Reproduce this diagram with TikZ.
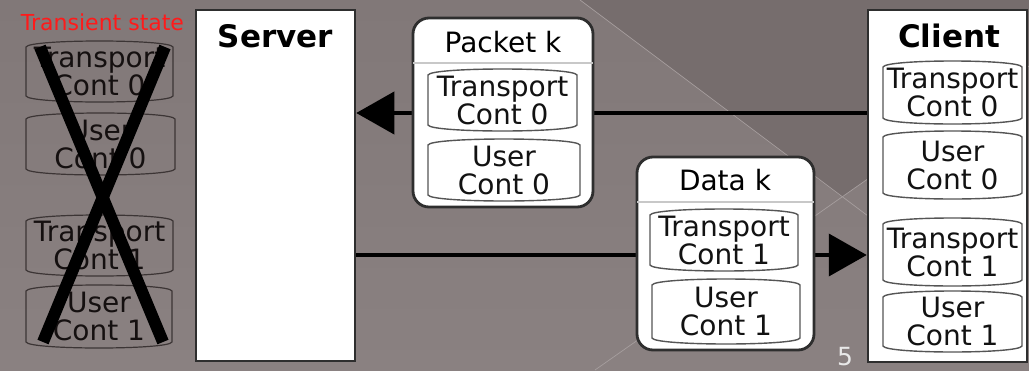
\documentclass[tikz,border=0pt]{standalone}
\usepackage{fontspec}
\setmainfont{DejaVu Sans}
\usetikzlibrary{arrows.meta}

\definecolor{bgtop}{HTML}{817878}
\definecolor{bgbottom}{HTML}{8A8181}
\definecolor{bgdark}{HTML}{766D6D}
\definecolor{streak}{HTML}{A69E9E}
\definecolor{boxline}{HTML}{2E2E2E}
\definecolor{cellline}{HTML}{555555}
\definecolor{ghostline}{HTML}{3C3535}
\definecolor{ghosttext}{HTML}{151010}
\definecolor{seprule}{HTML}{C8C8C8}
\definecolor{alertred}{HTML}{FF1A1A}
\definecolor{pagenum}{HTML}{E8E8E8}

% tape-shaped cell: straight sides, top and bottom bulging outward
\newcommand\tapeoutline[5]{%
  \draw[#5] ({#1},{#2+7}) .. controls ({#1+3},{#2-1}) and ({#3-3},{#2-1}) .. ({#3},{#2+7})
    -- ({#3},{#4-7}) .. controls ({#3-3},{#4+1}) and ({#1+3},{#4+1}) .. ({#1},{#4-7}) -- cycle;}
% name, x1, y1, x2, y2, outline style, text style, text
\newcommand\tapecell[8]{%
  \tapeoutline{#2}{#3}{#4}{#5}{#6}%
  \node[celltext,#7] (#1) at ({(#2+#4)/2},{(#3+#5)/2}) {#8};}

\begin{document}
\begin{tikzpicture}[x=1pt,y=-1pt,
  celltext/.style={inner sep=0pt, align=center, text=black!93,
    font=\fontsize{28}{28}\selectfont},
  whitecell/.style={draw=cellline, fill=white, line width=1.4pt},
  ghostcell/.style={draw=ghostline, line width=1.2pt},
  ghosttxt/.style={text=ghosttext},
  hostbox/.style={draw=boxline, fill=white, line width=2.5pt, inner sep=0pt},
  panel/.style={draw=boxline, fill=white, line width=2.8pt, rounded corners=16pt, inner sep=0pt},
  hosttitle/.style={inner sep=0pt, anchor=base, font=\fontsize{31}{31}\selectfont\bfseries},
  paneltitle/.style={inner sep=0pt, anchor=base, font=\fontsize{28}{28}\selectfont},
  flow/.style={line width=4pt, -{Triangle[length=38pt,width=42pt]}},
  streakline/.style={draw=streak, line width=0.7pt},
  cross/.style={line width=12pt, line cap=butt}]

% slide background
\useasboundingbox (0,0) rectangle (1029,370);
\shade[top color=bgtop, bottom color=bgbottom] (0,0) rectangle (1029,370);
\fill[bgdark] (580,0) -- (842,197) -- (1029,66) -- (1029,0) -- cycle;
\draw[streakline] (580,0) -- (868,216);
\draw[streakline] (1029,66) -- (595,370);

% hosts
\node[hostbox, minimum width=159pt, minimum height=351pt] (server) at (275.5,185.5) {};
\node[hosttitle] (servertitle) at (275.5,47) {Server};
\node[hostbox, minimum width=159pt, minimum height=352pt] (client) at (947.5,186) {};
\node[hosttitle] (clienttitle) at (949,47) {Client};

% flows between the hosts
\coordinate (upper) at (0,113);
\coordinate (lower) at (0,255);
\draw[flow] (client.west |- upper) -- (server.east |- upper);
\draw[flow] (server.east |- lower) -- (client.west |- lower);

% packet in flight towards the server
\node[panel, minimum width=180pt, minimum height=189pt] (packet) at (503,112.5) {};
\node[paneltitle] (packettitle) at (503,52) {Packet k};
\draw[seprule, line width=1.5pt] ([xshift=1.5pt]packet.west |- 0,63) -- ([xshift=-1.5pt]packet.east |- 0,63);
\tapecell{packettransport}{428}{68}{577}{132}{whitecell}{}{Transport\\Cont 0}
\tapecell{packetuser}{428}{138}{580}{202}{whitecell}{}{User\\Cont 0}

% data in flight towards the client
\node[panel, minimum width=177pt, minimum height=193pt] (data) at (725.5,253.5) {};
\node[paneltitle] (datatitle) at (725,190) {Data k};
\draw[seprule, line width=1.5pt] ([xshift=1.5pt]data.west |- 0,202) -- ([xshift=-1.5pt]data.east |- 0,202);
\tapecell{datatransport}{650}{208}{798}{272}{whitecell}{}{Transport\\Cont 1}
\tapecell{datauser}{652}{278}{800}{345}{whitecell}{}{User\\Cont 1}

% client contexts
\tapecell{clienttransport0}{883}{60}{1022}{125}{whitecell}{}{Transport\\Cont 0}
\tapecell{clientuser0}{883}{130}{1022}{200}{whitecell}{}{User\\Cont 0}
\tapecell{clienttransport1}{883}{217}{1022}{287}{whitecell}{}{Transport\\Cont 1}
\tapecell{clientuser1}{883}{290}{1022}{353}{whitecell}{}{User\\Cont 1}

% discarded contexts of the transient state
\node[inner sep=0pt, anchor=base, text=alertred, font=\fontsize{22}{22}\selectfont] (transient) at (102.5,30) {Transient state};
\tapecell{oldtransport0}{26}{40}{173}{103}{ghostcell}{ghosttxt}{Transport\\Cont 0}
\tapecell{olduser0}{26}{112}{175}{176}{ghostcell}{ghosttxt}{User\\Cont 0}
\tapecell{oldtransport1}{26}{214}{173}{277}{ghostcell}{ghosttxt}{Transport\\Cont 1}
\tapecell{olduser1}{26}{284}{172}{349}{ghostcell}{ghosttxt}{User\\Cont 1}
\draw[cross] (40,47) -- (163,342);
\draw[cross] (165,47) -- (43,342);

% slide number
\node[inner sep=0pt, anchor=base, text=pagenum, font=\fontsize{25}{25}\selectfont] (slideno) at (845,365) {5};
\end{tikzpicture}
\end{document}
